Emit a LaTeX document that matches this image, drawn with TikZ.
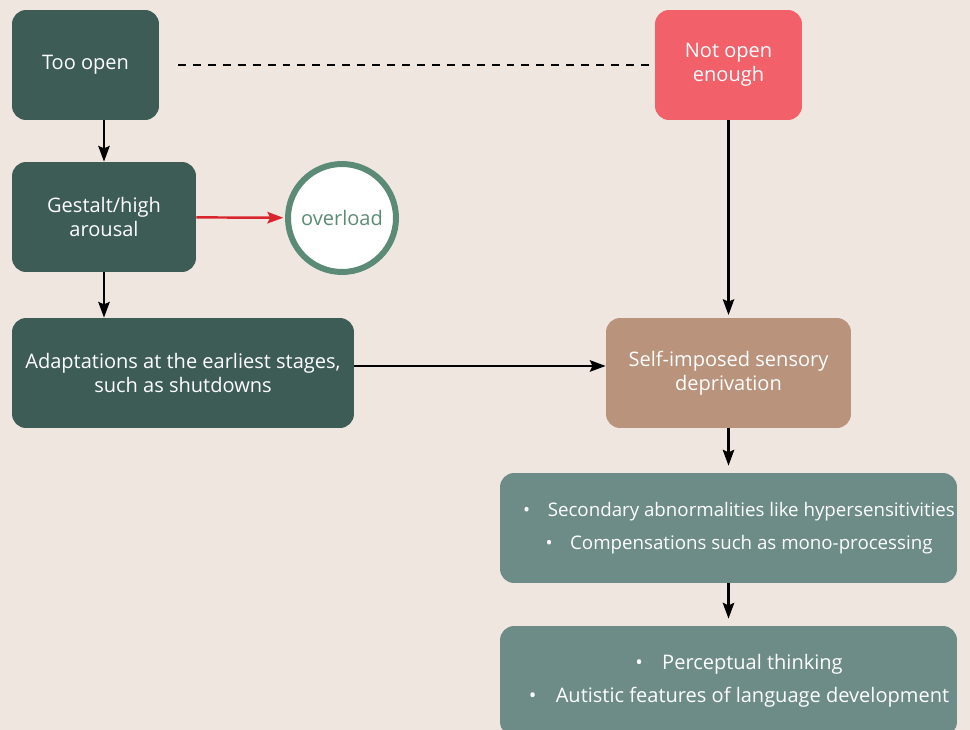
\documentclass[tikz,border=0pt]{standalone}
\usepackage{fontspec}
\setmainfont{Open Sans}
\usetikzlibrary{arrows.meta,positioning}

\definecolor{bgcol}{HTML}{EFE6E0}
\definecolor{darkteal}{HTML}{3D5C56}
\definecolor{coral}{HTML}{F2606A}
\definecolor{tancol}{HTML}{B9937C}
\definecolor{greyteal}{HTML}{6D8C87}
\definecolor{ringgreen}{HTML}{5B8B77}
\definecolor{redarrow}{HTML}{D9262E}

\tikzset{
  box/.style={rounded corners=8pt, text=white, align=center, inner sep=0pt,
    font=\fontsize{11.4}{13.7}\selectfont},
  listbox/.style={box, minimum width=9.14cm, minimum height=2.2cm,
    fill=greyteal, font=\fontsize{11.4}{18.8}\selectfont},
  conn/.style={-{Stealth[length=9pt,width=6.5pt,inset=1.5pt]}, line width=1.4pt},
}

\begin{document}
\begin{tikzpicture}[x=0.02cm,y=-0.02cm]
  \useasboundingbox (0,0) rectangle (970,730);
  \fill[bgcol] (0,0) rectangle (970,730);
  \clip (0,0) rectangle (970,730);
  % left column
  \node [box, fill=darkteal, minimum width=2.94cm, minimum height=2.2cm]
    (tooopen) at (85.5,65) {Too open};
  \node [box, fill=darkteal, minimum width=3.68cm, minimum height=2.2cm]
    (gestalt) at (104,217) {Gestalt/high\\arousal};
  \node [circle, draw=ringgreen, line width=3.4pt, fill=white, minimum size=2.16cm,
    text=ringgreen, font=\fontsize{11.4}{13.7}\selectfont] (overload) at (342,218) {overload};
  \node [box, fill=darkteal, minimum width=6.84cm, minimum height=2.2cm]
    (adapt) at (183,373) {Adaptations at the earliest stages,\\such as shutdowns};
  % right column
  \node [box, fill=coral, minimum width=2.94cm, minimum height=2.2cm]
    (notopen) at (728.5,65) {Not open\\enough};
  \node [box, fill=tancol, minimum width=4.9cm, minimum height=2.2cm]
    (selfdep) at (728.5,373) {Self-imposed sensory\\deprivation};
  \node [listbox, font=\fontsize{10.65}{18.8}\selectfont] (secondary) at (728.5,528)
    {\hspace{12pt}\textbullet\hspace{10pt}Secondary abnormalities like hypersensitivities\\
     \hspace{12pt}\textbullet\hspace{10pt}Compensations such as mono-processing};
  \node [listbox] (perceptual) at (728.5,681)
    {\hspace{12pt}\textbullet\hspace{11pt}Perceptual thinking\\
     \hspace{12pt}\textbullet\hspace{11pt}Autistic features of language development};
  % connectors
  \coordinate (dashstart) at (178,65);
  \draw [dashed, dash pattern=on 4.5pt off 4pt, line width=1.1pt] (dashstart) -- (notopen.west);
  \draw [conn] (tooopen.south -| gestalt) -- (gestalt);
  \draw [conn] (gestalt) -- (gestalt |- adapt.north);
  \draw [conn, redarrow, shorten >=1pt] (gestalt) -- (overload);
  \draw [conn] ([yshift=4pt]adapt.east) -- ([yshift=4pt]selfdep.west);
  \draw [conn, shorten >=1.5pt] (notopen) -- (selfdep);
  \draw [conn, shorten >=4pt] (selfdep) -- (secondary);
  \draw [conn, shorten >=4pt] (secondary) -- (perceptual);
\end{tikzpicture}
\end{document}
